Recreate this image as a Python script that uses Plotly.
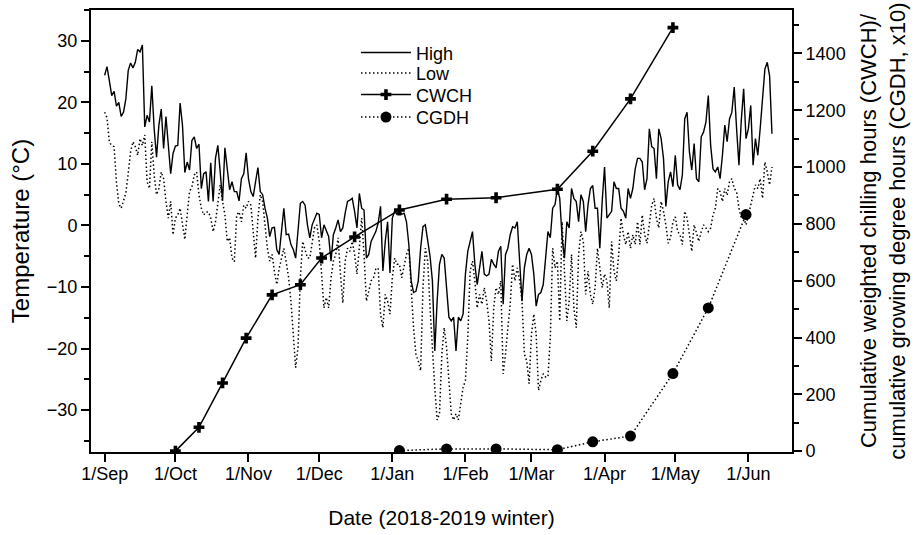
import pandas as pd
import plotly.graph_objects as go

START = "2018-09-01"

HIGH = [
    24.4, 25.8, 23.5, 21.1, 21.8, 19.4, 20.0, 17.7, 18.4, 20.6,
    25.2, 26.4, 25.6, 26.5, 28.6, 28.2, 29.3, 16.0, 17.9, 16.8,
    22.7, 15.7, 11.1, 16.3, 18.9, 12.5, 17.7, 13.0, 8.4, 11.7,
    12.9, 13.0, 19.9, 16.3, 8.6, 10.3, 9.0, 13.8, 14.4, 12.5,
    13.2, 6.0, 8.4, 8.7, 3.9, 10.2, 3.9, 10.9, 13.0, 8.7,
    4.0, 12.6, 8.7, 5.8, 7.1, 5.5, 5.5, 4.0, 7.6, 8.4,
    11.8, 7.6, 5.5, 4.7, 7.1, 9.4, 5.5, 5.0, 2.8, 1.2,
    -1.8, -0.4, -0.3, -3.9, -4.7, -0.4, 2.8, -1.5, -1.4, -3.1,
    -3.9, -5.3, -1.2, 3.6, 3.9, 3.3, 0.1,
    -2.0, 0.1, 1.2, 2.0, 1.8, -2.0, 0.1, -1.0, -1.8, -5.8,
    -1.5, -0.4, 0.9, -1.0, -0.4, 2.0, 3.9, 4.1, 4.4, 2.3,
    -0.4, 5.2, 2.8, 2.5, -5.3, -4.7, -2.6, -1.8, -1.0, 0.4,
    3.1, -7.4, -2.6, 0.6, -7.7, 1.2, 2.3, 1.8, 2.5, 1.8,
    2.0, 0.6, -3.1, -9.0, -10.9, -10.7, -9.0, -3.7, -0.2, 0.1,
    -2.6, -5.0, -9.0, -20.4, -12.3, -6.3, -4.7, -5.3, -10.1, -14.9,
    -15.5, -14.9, -20.4, -14.9, -15.5, -14.4, -7.9, -4.2, -2.6, -1.0,
    -6.3, -9.6, -6.9, -4.2, -7.9, -8.2, -7.9, -5.5, -6.3, -6.9,
    -4.2, -3.4,
    -12.8, -4.7, -3.7, -1.5, -0.2, -0.4, 0.6, -5.8, -12.3, -6.9,
    -4.7, -3.7, -4.7, -7.9, -13.1, -11.2, -10.9, -9.6, -5.8, -1.0,
    -2.0, 2.8, 3.4, 6.0, 4.4, -2.0, -5.3, 0.6, -0.4, 6.0,
    4.4, 3.9, 0.6, 5.0, 3.9, -1.0, 3.4, 6.0, 6.5, 2.8,
    2.8, -3.7, 3.9, 9.5, 1.2, 1.8, 2.3, 7.1, 6.0, 6.0,
    2.8, 2.3, 1.2, 6.0, 4.4, 6.0, 9.2, 10.9,
    10.9, 10.3, 5.8, 7.6, 15.7, 12.8, 12.5, 7.6, 15.7, 14.1,
    10.9, 3.1, 7.1, 8.7, 6.3, 11.4, 6.6, 5.8, 8.2, 17.3,
    18.4, 11.9, 9.0, 13.3, 7.6, 7.1, 14.4, 15.2, 16.8, 21.1,
    13.0, 9.2, 8.7, 9.5, 7.6, 11.4, 16.3, 13.6, 17.3, 18.4,
    22.5, 15.7, 9.8, 17.1, 22.2, 14.1, 15.7, 19.5, 9.8, 14.1,
    11.4, 15.7, 20.6, 25.4, 26.5, 24.3, 14.9,
]

LOW = [
    18.4, 17.5, 13.5, 13.0, 12.8, 7.0, 3.5, 2.8, 4.0, 5.3,
    8.5, 12.0, 13.6, 12.8, 11.4, 14.1, 13.0, 14.7, 7.1, 6.0,
    13.6, 8.2, 5.0, 6.0, 8.7, 7.6, 3.9, 1.2, 3.9, -1.5,
    1.2, 1.7, 2.8, 0.6, -2.3, 1.7, 5.5, 6.3, 8.2, 8.7,
    5.0, 2.8, 1.7, 2.2, 2.2, 1.2, -1.0, 0.6, 3.9, 6.6,
    3.9, 1.7, -2.6, -2.0, -5.3, -5.9, 1.7, 2.2, 0.6, 3.3,
    2.8, 3.9, 3.3, -1.5, -5.3, 1.2, 5.0, 3.9, 0.6, -3.7,
    -5.8, -4.7, -7.5, -9.6, -7.0, -5.3, -3.7, -6.0, -8.4, -12.3,
    -17.6, -23.1, -19.8, -8.4, -2.6, -4.0, -5.3,
    -5.3, -3.1, -0.4, 0.1, -2.6, -7.9, -13.4, -11.7, -13.4, -8.5,
    -5.8, -4.7, -2.0, -7.9, -12.6, -5.8, -3.7, -4.2, -2.6, -4.7,
    -7.9, -3.7, 1.2, -4.7, -12.3, -10.7, -9.0, -8.5, -7.1, -6.9,
    -14.4, -16.6, -11.2, -12.3, -14.4, -8.5, -5.3, -6.3, -6.3, -8.5,
    -6.3, -4.7, -3.7, -10.1, -16.6, -20.9, -22.0, -23.6, -10.1, -3.7,
    -5.8, -13.4, -20.9, -26.3, -31.6, -30.6, -20.9, -16.6, -19.8, -25.2,
    -30.6, -31.6, -30.6, -31.6, -28.9, -26.3, -25.2, -18.2, -7.4, -5.8,
    -9.0, -13.4, -11.2, -12.8, -10.1, -12.3, -15.5, -22.0, -13.4, -10.1,
    -11.2, -9.0,
    -24.1, -20.9, -16.6, -12.8, -6.3, -9.0, -6.9, -9.0, -12.3, -20.9,
    -22.0, -25.7, -17.7, -14.4, -17.7, -26.8, -25.2, -24.1, -24.6, -24.6,
    -18.2, -3.7, -6.9, -5.8, -15.5, 0.6, -7.4, -15.5, -12.3, -4.7,
    -13.4, -16.6, -4.7, -1.0, -2.6, -11.2, -7.4, -11.2, -12.8, -10.1,
    -3.7, -6.9, -10.1, -7.9, -9.0, -13.4, -2.6, -7.4, -9.0, -4.7,
    1.2, -1.5, -3.1, -1.0, -3.7, -1.5, -3.1, 0.6,
    -3.1, 1.7, -1.5, -2.9, 0.1, 3.3, 4.4, 1.2, -0.4, 3.9,
    2.3, 0.1, -2.9, -2.0, 0.6, 1.4, -1.0, -1.5, -3.1, 2.3,
    1.2, -1.5, -4.2, 0.1, -1.5, -2.6, -1.0, 0.1, -0.4, -1.0,
    -0.4, 1.7, 2.8, 6.0, 5.5, 3.9, 6.0, 4.9, 7.1, 7.6,
    6.0, 5.5, 2.8, 1.2, 1.2, 0.1, 1.7, 3.3, 4.9, 6.6,
    6.0, 7.6, 4.4, 10.3, 8.7, 6.6, 9.5,
]

CWCH_DATES = ["2018-10-01", "2018-10-11", "2018-10-21", "2018-10-31", "2018-11-11",
              "2018-11-23", "2018-12-02", "2018-12-16", "2019-01-04", "2019-01-24",
              "2019-02-14", "2019-03-12", "2019-03-27", "2019-04-12", "2019-04-30"]
CWCH = [0, 84, 240, 398, 550, 586, 680, 754, 849, 887, 892, 922, 1056, 1240, 1491]

CGDH_DATES = ["2019-01-04", "2019-01-24", "2019-02-14", "2019-03-12", "2019-03-27",
              "2019-04-12", "2019-04-30", "2019-05-15", "2019-05-31"]
CGDH = [2, 8, 8, 5, 33, 53, 273, 504, 833]

TICK_DATES = ["2018-09-01", "2018-10-01", "2018-11-01", "2018-12-01", "2019-01-01",
              "2019-02-01", "2019-03-01", "2019-04-01", "2019-05-01", "2019-06-01"]
TICK_LABELS = ["1/Sep", "1/Oct", "1/Nov", "1/Dec", "1/Jan",
               "1/Feb", "1/Mar", "1/Apr", "1/May", "1/Jun"]

days_high = pd.date_range(START, periods=len(HIGH), freq="D")
days_low = pd.date_range(START, periods=len(LOW), freq="D")

FONT = "Liberation Sans, Arial, sans-serif"
DOT = "1.5px,2.5px"

fig = go.Figure()
fig.add_trace(go.Scatter(x=days_high, y=HIGH, name="High", mode="lines",
                         line=dict(color="black", width=1.4), legend="legend"))
fig.add_trace(go.Scatter(x=days_low, y=LOW, name="Low", mode="lines",
                         line=dict(color="black", width=1.5, dash=DOT), legend="legend2"))
fig.add_trace(go.Scatter(x=pd.to_datetime(CWCH_DATES), y=CWCH, name="CWCH", mode="lines+markers",
                         yaxis="y2", line=dict(color="black", width=1.5),
                         marker=dict(symbol="cross", size=9, color="black"), legend="legend3"))
fig.add_trace(go.Scatter(x=pd.to_datetime(CGDH_DATES), y=CGDH, name="CGDH", mode="lines+markers",
                         yaxis="y2", line=dict(color="black", width=1.5, dash=DOT),
                         marker=dict(symbol="circle", size=11, color="black"), legend="legend4"))


def leg(ypos):
    return dict(x=0.378, y=ypos, xanchor="left", yanchor="middle",
                bgcolor="rgba(0,0,0,0)", font=dict(size=18), itemwidth=50)


fig.update_layout(
    width=915, height=535,
    margin=dict(l=91, r=123, t=8, b=83),
    paper_bgcolor="white", plot_bgcolor="white",
    font=dict(family=FONT, size=18, color="black"),
    showlegend=True,
    legend=leg(0.903), legend2=leg(0.857), legend3=leg(0.808), legend4=leg(0.757),
    xaxis=dict(
        type="date",
        range=["2018-08-26 05:00", "2019-06-19 12:00"],
        tickmode="array", tickvals=TICK_DATES, ticktext=TICK_LABELS,
        ticks="outside", ticklen=8, tickwidth=1.5, tickcolor="black",
        ticklabelstandoff=-4,
        showline=True, linewidth=2, linecolor="black", mirror=True,
        showgrid=False, zeroline=False,
        tickfont=dict(size=18),
        title=dict(text="Date (2018-2019 winter)", font=dict(size=21), standoff=28),
    ),
    yaxis=dict(
        range=[-36.8, 35.0],
        tickmode="linear", tick0=0, dtick=10,
        ticks="outside", ticklen=8, tickwidth=1.5, tickcolor="black",
        minor=dict(tickmode="linear", tick0=0, dtick=5, ticks="outside", ticklen=5,
                   tickwidth=1.5, tickcolor="black", showgrid=False),
        showline=True, linewidth=2, linecolor="black",
        showgrid=False, zeroline=False,
        tickfont=dict(size=18),
        title=dict(text="Temperature (°C)", font=dict(size=24), standoff=10),
    ),
    yaxis2=dict(
        overlaying="y", side="right",
        range=[-3, 1553],
        tickmode="linear", tick0=0, dtick=200,
        ticks="outside", ticklen=8, tickwidth=1.5, tickcolor="black",
        minor=dict(tickmode="linear", tick0=0, dtick=100, ticks="outside", ticklen=5,
                   tickwidth=1.5, tickcolor="black", showgrid=False),
        showline=True, linewidth=2, linecolor="black",
        showgrid=False, zeroline=False,
        tickfont=dict(size=18),
        title=dict(text="Cumulative weighted chilling hours (CWCH)/<br>cumulative growing degree hours (CGDH, x10)",
                   font=dict(size=22), standoff=16),
    ),
)

fig.write_html("out.html")
